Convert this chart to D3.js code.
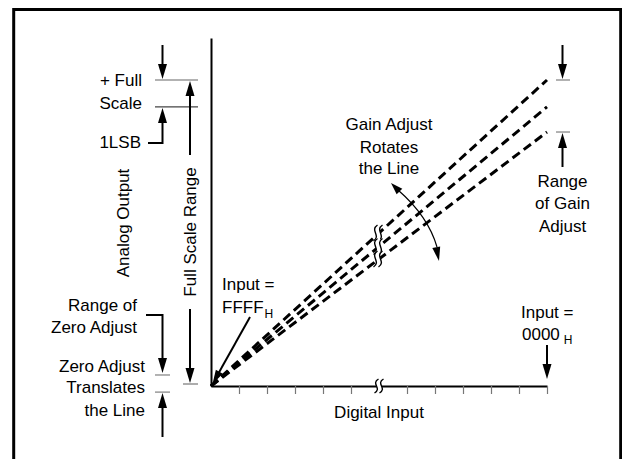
<!DOCTYPE html>
<html><head><meta charset="utf-8">
<script src="https://cdn.jsdelivr.net/npm/d3@7"></script>
<style>
html,body{margin:0;padding:0;background:#fff;}
svg{display:block;}
text{font-family:"Liberation Sans",Arial,Helvetica,sans-serif;font-size:17px;fill:#000;}
</style>
</head><body>
<svg id="c" width="622" height="459"></svg>
<script>
// ---- data (digital input steps on x, normalised analog output on y) ----
const inputDomain = [0, 12];
const tickSteps = [1, 2, 3, 4, 5, 7, 8, 9, 10, 11, 12];
const breakStep = 6;
const lineNames = ["maxGain", "nominal", "minGain"];
const lineEnds = [1.0, 0.912, 0.83];
const fullScale = 1.0;
const oneLSB = 0.912;
const gainRange = [1.0, 0.83];
const zeroAdjustRange = [0.036, -0.02];
const outputTop = 1.137;

const svg = d3.select("#c");
const x = d3.scaleLinear().domain(inputDomain).range([211, 547]);
const y = d3.scaleLinear().domain([0, 1]).range([386, 80]);

// frame
svg.append("rect").attr("x", 13.7).attr("y", 9.5).attr("width", 607).attr("height", 480)
  .attr("fill", "none").attr("stroke", "#000").attr("stroke-width", 3);

// helpers
function line(x1, y1, x2, y2, w = 2, c = "#000") {
  svg.append("line").attr("x1", x1).attr("y1", y1).attr("x2", x2).attr("y2", y2)
    .attr("stroke", c).attr("stroke-width", w);
}
function arrow(x1, y1, x2, y2, L = 15, hw = 4.5) {
  const a = Math.atan2(y2 - y1, x2 - x1);
  const bx = x2 - L * Math.cos(a), by = y2 - L * Math.sin(a);
  line(x1, y1, bx + 2 * Math.cos(a), by + 2 * Math.sin(a), 2);
  const px = -Math.sin(a) * hw, py = Math.cos(a) * hw;
  svg.append("path").attr("d", `M${x2},${y2}L${bx + px},${by + py}L${bx - px},${by - py}Z`).attr("fill", "#000");
}
function headOnly(x2, y2, a, L = 15, hw = 4.5) {
  const bx = x2 - L * Math.cos(a), by = y2 - L * Math.sin(a);
  const px = -Math.sin(a) * hw, py = Math.cos(a) * hw;
  svg.append("path").attr("d", `M${x2},${y2}L${bx + px},${by + py}L${bx - px},${by - py}Z`).attr("fill", "#000");
}
function txt(tx, ty, s, anchor = "start") {
  return svg.append("text").attr("x", tx).attr("y", ty).attr("text-anchor", anchor).text(s);
}
function sPath(cx, cy, h) {
  return `M${cx + 2},${cy - h} C${cx - 6},${cy - h / 3} ${cx + 6},${cy + h / 3} ${cx - 2},${cy + h}`;
}
function breakMark(cx, cy, h) {
  svg.append("path").attr("d", sPath(cx, cy, h)).attr("fill", "none").attr("stroke", "#fff").attr("stroke-width", 5);
  [-2.5, 2.5].forEach(d => svg.append("path").attr("d", sPath(cx + d, cy, h))
    .attr("fill", "none").attr("stroke", "#000").attr("stroke-width", 1.4));
}

// x axis
const xAxis = svg.append("g").attr("transform", `translate(0,${y(0)})`)
  .call(d3.axisBottom(x).tickValues(tickSteps).tickSize(8).tickSizeOuter(0).tickFormat(""));
xAxis.select(".domain").attr("stroke", "#000").attr("stroke-width", 2);
xAxis.selectAll(".tick line").attr("stroke", "#777").attr("stroke-width", 1.2);

// y axis
const yAxisScale = d3.scaleLinear().domain([0, outputTop]).range([y(0), y(outputTop)]);
const yAxis = svg.append("g").attr("transform", `translate(${x(0)},0)`)
  .call(d3.axisLeft(yAxisScale).tickValues([]).tickSizeOuter(0));
yAxis.select(".domain").attr("stroke", "#000").attr("stroke-width", 2);

// dashed transfer lines
const lg = d3.line().x(d => x(d[0])).y(d => y(d[1]));
lineEnds.forEach((e, i) => {
  svg.append("path").attr("class", lineNames[i])
    .attr("d", lg([[0, 0], [inputDomain[1], e]]))
    .attr("fill", "none").attr("stroke", "#000").attr("stroke-width", 3)
    .attr("stroke-dasharray", "9,5");
});
lineEnds.forEach(e => breakMark(x(breakStep) - 1, y(e * breakStep / inputDomain[1]), 8));
breakMark(x(breakStep), y(0), 7);

// axis title
txt(x(breakStep), 418, "Digital Input", "middle");
svg.append("text").attr("transform", `translate(123.5,223) rotate(-90)`)
  .attr("text-anchor", "middle").attr("dy", "0.35em").text("Analog Output");

// left annotations: full scale / 1LSB
line(155, y(fullScale), 198, y(fullScale), 1.5, "#999");
line(155, y(oneLSB), 198, y(oneLSB), 1.2, "#444");
arrow(162.5, 45, 162.5, y(fullScale) - 1);
svg.append("path").attr("d", `M148,143 H162.5 V${y(oneLSB) + 14}`).attr("fill", "none").attr("stroke", "#000").attr("stroke-width", 2);
headOnly(162.5, y(oneLSB) + 1, -Math.PI / 2);
txt(142, 85.5, "+ Full", "end");
txt(142, 109, "Scale", "end");
txt(141, 148, "1LSB", "end");

// full scale range
arrow(190, 155, 190, y(fullScale) + 1);
arrow(190, 309, 190, 383);
line(183, 384, 198, 384, 1.2, "#777");
svg.append("text").attr("transform", `translate(190,232) rotate(-90)`)
  .attr("text-anchor", "middle").attr("dy", "0.35em").text("Full Scale Range");

// zero adjust
txt(137, 310.5, "Range of", "end");
txt(137, 332.5, "Zero Adjust", "end");
svg.append("path").attr("d", `M146,315 H162.5 V${y(zeroAdjustRange[0]) - 14}`).attr("fill", "none").attr("stroke", "#000").attr("stroke-width", 2);
headOnly(162.5, y(zeroAdjustRange[0]) - 2, Math.PI / 2);
line(155, y(zeroAdjustRange[0]), 170, y(zeroAdjustRange[0]), 1.5, "#999");
line(155, y(zeroAdjustRange[1]), 170, y(zeroAdjustRange[1]), 1.5, "#999");
arrow(162.5, 437, 162.5, y(zeroAdjustRange[1]) + 1);
txt(145, 371.5, "Zero Adjust", "end");
txt(145, 393, "Translates", "end");
txt(145, 415.5, "the Line", "end");

// Input = FFFF_H
txt(222, 290, "Input =");
const ff = txt(222, 313, "FFFF");
ff.append("tspan").attr("font-size", "12px").attr("dx", "1").attr("dy", "5").text("H");
arrow(250, 317, 212.5, 384, 14, 4);

// Input = 0000_H
txt(521, 318, "Input =");
const zz = txt(522, 340, "0000");
zz.append("tspan").attr("font-size", "12px").attr("dx", "4").attr("dy", "4").text("H");
arrow(x(inputDomain[1]), 345, x(inputDomain[1]), 379);

// gain adjust
line(556, y(gainRange[0]), 570, y(gainRange[0]), 1.5, "#999");
line(556, y(gainRange[1]), 570, y(gainRange[1]), 1.5, "#999");
arrow(562.5, 45, 562.5, y(gainRange[0]) - 1);
arrow(562.5, 167, 562.5, y(gainRange[1]) + 1);
txt(562.5, 187, "Range", "middle");
txt(562.5, 209, "of Gain", "middle");
txt(562.5, 232, "Adjust", "middle");

txt(389, 130, "Gain Adjust", "middle");
txt(389, 152.5, "Rotates", "middle");
txt(389, 174, "the Line", "middle");
svg.append("path").attr("d", "M398,190 Q428,216 437,247").attr("fill", "none").attr("stroke", "#000").attr("stroke-width", 1.2);
headOnly(391, 183, Math.atan2(183 - 192, 391 - 400), 12, 4);
headOnly(439, 261, Math.atan2(261 - 246, 439 - 436), 14, 4);
</script>
</body></html>
